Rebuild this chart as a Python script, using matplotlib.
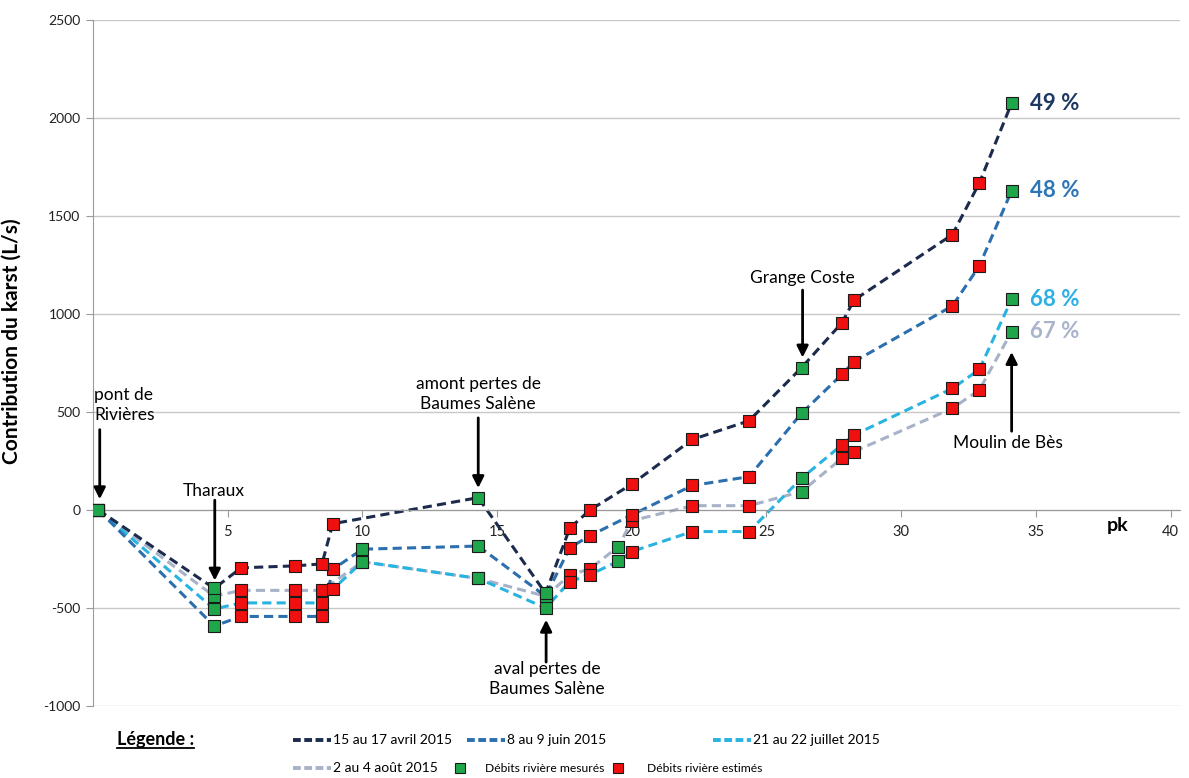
import matplotlib
matplotlib.use("Agg")
import matplotlib.pyplot as plt
from matplotlib.lines import Line2D
import numpy as np

plt.rcParams['font.family'] = ['Lato', 'DejaVu Sans']
plt.rcParams['axes.unicode_minus'] = False

# ---------------- data ----------------
series_names = ["15 au 17 avril 2015", "8 au 9 juin 2015", "21 au 22 juillet 2015", "2 au 4 août 2015"]
series_colors = ["#1c2b4d", "#2b6fae", "#29b3e0", "#a7b2c8"]
pct_labels = ["49 %", "48 %", "68 %", "67 %"]
pct_colors = ["#1f3864", "#2e75b6", "#2ab0e4", "#a9b4cc"]

pk_avril = [0.2, 4.5, 5.5, 7.5, 8.5, 8.9, 14.3, 16.8, 17.7, 18.45, 20.0, 22.25, 24.35, 26.3, 27.8, 28.25, 31.9, 32.9, 34.1]
q_avril = [0, -400, -295, -285, -275, -70, 63, -425, -92, 0, 132, 360, 455, 726, 955, 1071, 1405, 1668, 2076]
t_avril = ["M", "M", "E", "E", "E", "E", "M", "M", "E", "E", "E", "E", "E", "M", "E", "E", "E", "E", "M"]

pk_juin = [0.2, 4.5, 5.5, 7.5, 8.5, 8.9, 10.0, 14.3, 16.8, 17.7, 18.45, 20.0, 22.25, 24.35, 26.3, 27.8, 28.25, 31.9, 32.9, 34.1]
q_juin = [0, -592, -543, -543, -543, -303, -200, -184, -440, -192, -131, -25, 125, 170, 493, 692, 757, 1041, 1245, 1629]
t_juin = ["M", "M", "E", "E", "E", "E", "M", "M", "M", "E", "E", "E", "E", "E", "M", "E", "E", "E", "E", "M"]

pk_juillet = [0.2, 4.5, 5.5, 7.5, 8.5, 8.9, 10.0, 14.3, 16.8, 17.7, 18.45, 19.5, 20.0, 22.25, 24.35, 26.3, 27.8, 28.25, 31.9, 32.9, 34.1]
q_juillet = [0, -505, -474, -474, -474, -405, -264, -349, -500, -365, -330, -261, -212, -110, -110, 162, 332, 383, 620, 717, 1075]
t_juillet = ["M", "M", "E", "E", "E", "E", "M", "M", "M", "E", "E", "M", "E", "E", "E", "M", "E", "E", "E", "E", "M"]

pk_aout = [0.2, 4.5, 5.5, 7.5, 8.5, 10.0, 14.3, 16.8, 17.7, 18.45, 19.5, 20.0, 22.25, 24.35, 26.3, 27.8, 28.25, 31.9, 32.9, 34.1]
q_aout = [0, -440, -410, -410, -410, -264, -349, -440, -332, -300, -187, -55, 22, 22, 94, 264, 298, 519, 612, 910]
t_aout = ["M", "M", "E", "E", "E", "M", "M", "M", "E", "E", "M", "E", "E", "E", "M", "E", "E", "E", "E", "M"]

x_ticks = [5, 10, 15, 20, 25, 30, 35, 40]
y_ticks = [-1000, -500, 0, 500, 1000, 1500, 2000, 2500]

site_labels = ["pont de\nRivières", "Tharaux", "amont pertes de\nBaumes Salène",
               "aval pertes de\nBaumes Salène", "Grange Coste", "Moulin de Bès"]
site_pk = [0.25, 4.52, 14.3, 16.82, 26.34, 34.1]

GREEN = "#1fa64b"
RED = "#f01010"

# ---------------- figure ----------------
W, H = 1189, 778
fig = plt.figure(figsize=(W / 100, H / 100), dpi=100)
ax = fig.add_axes([93 / W, 1 - 706 / H, (1180 - 93) / W, 686 / H])
ax.set_xlim(0, 40.35)
ax.set_ylim(-1000, 2500)

ax.set_yticks(y_ticks)
ax.set_xticks(x_ticks)
ax.grid(axis='y', color='#c8c8c8', lw=1)
ax.set_axisbelow(True)
for s in ['top', 'right']:
    ax.spines[s].set_visible(False)
ax.spines['left'].set_color('#9a9a9a')
ax.spines['bottom'].set_color('#9a9a9a')
ax.spines['bottom'].set_position(('data', 0))
ax.tick_params(axis='y', length=5, color='#9a9a9a', labelsize=10, labelcolor='#222222', pad=4)
ax.tick_params(axis='x', length=5, color='#9a9a9a', labelsize=10.5, labelcolor='#222222', pad=6)
ax.set_xticklabels([str(v) for v in x_ticks])

ax.set_ylabel("Contribution du karst (L/s)", fontsize=15, fontweight='bold')
ax.yaxis.set_label_coords(-0.066, 0.532)
ax.text(38.05, -35, "pk", fontsize=14, fontweight='bold', ha='center', va='top')

all_series = [(pk_avril, q_avril, t_avril), (pk_juin, q_juin, t_juin),
              (pk_juillet, q_juillet, t_juillet), (pk_aout, q_aout, t_aout)]

draw_order = [3, 2, 1, 0]
for i in draw_order:
    pk, q, t = all_series[i]
    ax.plot(pk, q, color=series_colors[i], lw=2.2, linestyle=(0, (3, 1.7)),
            dash_capstyle='butt', zorder=2 + 0.1 * (4 - i))
for i in draw_order:
    pk, q, t = all_series[i]
    pk = np.array(pk)
    q = np.array(q)
    t = np.array(t)
    for kind, col in (("M", GREEN), ("E", RED)):
        m = t == kind
        ax.plot(pk[m], q[m], ls='none', marker='s', ms=9.2, mfc=col, mec='#1a1a1a',
                mew=0.8, zorder=4)
    ax.annotate(pct_labels[i], xy=(pk[-1], q[-1]), xytext=(18, 0), textcoords='offset pixels',
                ha='left', va='center', fontsize=16, fontweight='bold', color=pct_colors[i])

# ---------------- site annotations ----------------
arrow_kw = dict(arrowstyle='-|>', color='black', lw=2, mutation_scale=17, shrinkA=0, shrinkB=0)
FS = 12.5
ax.text(0.05, 625, site_labels[0], fontsize=FS, ha='left', va='top', linespacing=1.3)
ax.annotate('', xy=(site_pk[0], 55), xytext=(site_pk[0], 410), arrowprops=arrow_kw)
ax.text(4.48, 96, site_labels[1], fontsize=FS, ha='center', va='center')
ax.annotate('', xy=(site_pk[1], -360), xytext=(site_pk[1], 50), arrowprops=arrow_kw)
ax.text(14.3, 592, site_labels[2], fontsize=FS, ha='center', va='center', linespacing=1.3)
ax.annotate('', xy=(site_pk[2], 112), xytext=(site_pk[2], 470), arrowprops=arrow_kw)
ax.text(16.85, -862, site_labels[3], fontsize=FS, ha='center', va='center', linespacing=1.3)
ax.annotate('', xy=(site_pk[3], -560), xytext=(site_pk[3], -776), arrowprops=arrow_kw)
ax.text(26.34, 1182, site_labels[4], fontsize=FS, ha='center', va='center')
ax.annotate('', xy=(site_pk[4], 778), xytext=(site_pk[4], 1122), arrowprops=arrow_kw)
ax.text(33.96, 340, site_labels[5], fontsize=FS, ha='center', va='center')
ax.annotate('', xy=(site_pk[5], 806), xytext=(site_pk[5], 402), arrowprops=arrow_kw)

# ---------------- legend (manual layout) ----------------
def fx(x):
    return x / W

def fy(y):
    return 1 - y / H

leg = fig.text(fx(117), fy(740), "Légende :", fontsize=13, fontweight='bold', ha='left', va='center')

items_lines = [(0, 293, 740), (1, 467, 740), (2, 713, 740), (3, 293, 768)]
for i, x0, y0 in items_lines:
    fig.add_artist(Line2D([fx(x0), fx(x0 + 38)], [fy(y0), fy(y0)], transform=fig.transFigure,
                          color=series_colors[i], lw=2.8, linestyle=(0, (2, 0.9))))
    fig.text(fx(x0 + 40), fy(y0), series_names[i], fontsize=10, ha='left', va='center')

for col, xm, xt, label in ((GREEN, 460, 485, "Débits rivière mesurés"), (RED, 618, 647, "Débits rivière estimés")):
    fig.add_artist(Line2D([fx(xm)], [fy(768)], transform=fig.transFigure, ls='none', marker='s',
                          ms=7.5, mfc=col, mec='#1a1a1a', mew=0.8))
    fig.text(fx(xt), fy(768), label, fontsize=8.7, ha='left', va='center')

# underline "Légende :"
fig.canvas.draw()
bb = leg.get_window_extent().transformed(fig.transFigure.inverted())
fig.add_artist(Line2D([bb.x0, bb.x1], [bb.y0 + 0.001, bb.y0 + 0.001], transform=fig.transFigure,
                      color='black', lw=1.3))

fig.savefig("out.png", dpi=100)
